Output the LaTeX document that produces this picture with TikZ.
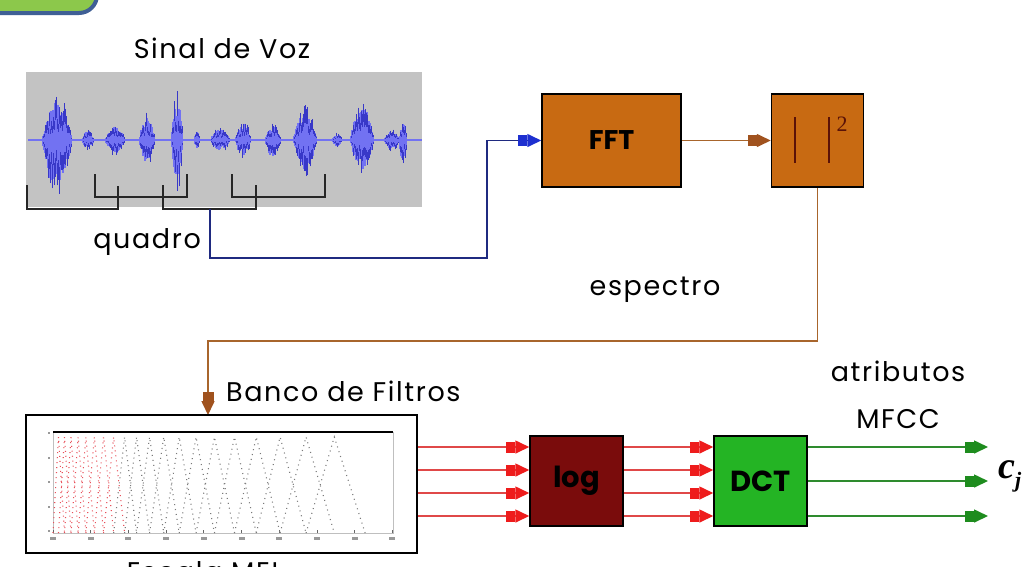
\documentclass[tikz,border=0pt]{standalone}
\usepackage{fontspec}
\setmainfont{Poppins}
\newfontfamily\seriffont{Liberation Serif}
\usetikzlibrary{arrows.meta}
\definecolor{slidegreen}{HTML}{8CC84B}
\definecolor{slideblue}{HTML}{3F5F95}
\definecolor{wavegray}{HTML}{C3C3C3}
\definecolor{wavelight}{HTML}{7272F2}
\definecolor{wavedark}{HTML}{3838C8}
\definecolor{navy}{HTML}{1F2A80}
\definecolor{tipblue}{HTML}{1E30D0}
\definecolor{fftorange}{HTML}{C86A12}
\definecolor{brownline}{HTML}{A8652C}
\definecolor{tipbrown}{HTML}{A0521E}
\definecolor{barbrown}{HTML}{5A1208}
\definecolor{logred}{HTML}{7A0C0C}
\definecolor{dctgreen}{HTML}{24B424}
\definecolor{redline}{HTML}{E04848}
\definecolor{tipred}{HTML}{EE1C1C}
\definecolor{greenline}{HTML}{2E8B2E}
\definecolor{tipgreen}{HTML}{1E8C1E}
\definecolor{melred}{HTML}{E8505A}
\definecolor{melgray}{HTML}{7A7A7A}
\tikzset{
  lbl/.style={font=\fontsize{27}{30}\selectfont\addfontfeature{LetterSpace=6}, text=black, inner sep=0pt},
  procbox/.style={draw=black, line width=1.5pt, minimum width=#1, inner sep=0pt},
  bracket/.style={draw=black!85, line width=1.6pt},
  tipstyle/.style={-{Rectangle[length=9pt,width=11pt,color=#1] Triangle[length=14pt,width=13pt,color=#1]}},
  blueconn/.style={draw=navy, line width=1.6pt, tipstyle=tipblue},
  brownconn/.style={draw=brownline, line width=1.6pt, tipstyle=tipbrown},
  redconn/.style={draw=redline, line width=1.6pt, tipstyle=tipred},
  greenconn/.style={draw=greenline, line width=1.6pt, tipstyle=tipgreen},
  melline/.style={line width=1.1pt, dash pattern=on 1pt off 4pt},
}
\begin{document}
\begin{tikzpicture}[x=1pt,y=-1pt]
\useasboundingbox (0,0) rectangle (1027,566);
\fill[white] (0,0) rectangle (1027,566);

% slide decoration top-left
\draw[draw=slideblue, fill=slidegreen, line width=4pt, rounded corners=18pt] (-30,-30) rectangle (97,13);

% signal box
\node[lbl] (sinal) at (222,48) {Sinal de Voz};
\node[fill=wavegray, minimum width=396pt, minimum height=135pt, inner sep=0pt] (wave) at (224,139.5) {};
\draw[wavelight, line width=1.5pt] (28,140) -- (422,140);
\pgfmathsetseed{11}
\foreach \c/\w/\u/\d in {57/15/48/63, 88/6/12/12, 115/10/17/17, 147/8/28/30, 177/6/52/52,
    197/3/10/10, 220/10/14/14, 243/8/22/20, 273/8/17/22, 305/12/35/38, 337/5/8/8,
    362/12/42/37, 392/8/12/12, 403/4/20/28} {
  \foreach \i in {-\w,...,\w} {
    \pgfmathsetmacro\e{1-(\i/\w)^2}
    \pgfmathsetmacro\a{\u*\e*(0.45+0.35*rnd)}
    \pgfmathsetmacro\b{\d*\e*(0.45+0.35*rnd)}
    \draw[wavelight, line width=1.3pt] (\c+\i,140-\a) -- (\c+\i,140+\b);
  }
  \foreach \i in {-\w,...,\w} {
    \pgfmathsetmacro\e{1-(\i/\w)^2}
    \pgfmathsetmacro\a{\u*\e*(0.3+0.7*rnd)}
    \pgfmathsetmacro\b{\d*\e*(0.3+0.7*rnd)}
    \draw[wavedark, line width=0.7pt] (\c+\i,140-\a) -- (\c+\i,140-0.5*\a);
    \draw[wavedark, line width=0.7pt] (\c+\i,140+\b) -- (\c+\i,140+0.5*\b);
  }
}
% frame brackets
\draw[bracket] (27,185) -- (27,209) -- (118,209) -- (118,186);
\draw[bracket] (95,174) -- (95,197) -- (187,197) -- (187,174);
\draw[bracket] (163,185) -- (163,209) -- (256,209) -- (256,185);
\draw[bracket] (232,174) -- (232,197) -- (325,197) -- (325,174);
\coordinate (q) at (210,209);
\node[lbl, anchor=east] (quadro) at (201,242) {quadro};

% FFT and |.|^2
\node[procbox=139pt, minimum height=93pt, fill=fftorange, font=\fontsize{27}{30}\selectfont\bfseries] (fft) at (611.5,140.5) {FFT};
\node[procbox=92pt, minimum height=93pt, fill=fftorange] (sq) at (817.5,140.5) {};
\draw[barbrown, line width=2pt] (795,117) -- (795,163);
\draw[barbrown, line width=2pt] (829,117) -- (829,163);
\node[text=barbrown, font=\seriffont\fontsize{22}{24}\selectfont, inner sep=0pt] (two) at (842,124) {2};

\coordinate (bend1) at (487,258);
\draw[blueconn] (q) |- (bend1) |- (fft.west);
\draw[brownconn] (fft.east) -- (sq.west);

% spectrum path to filter bank
\node[lbl] (espectro) at (655,290) {espectro};
\coordinate (bin) at (208,415);
\draw[brownconn] (sq.south) -- ++(0,153) -| (bin);
\node[lbl, anchor=west] (banco) at (226,391) {Banco de Filtros};

% filter bank box
\node[draw=black, line width=1.8pt, minimum width=391pt, minimum height=138pt, inner sep=0pt] (fb) at (221.5,484) {};
\draw[black!25, line width=0.6pt] (53,432) -- (53,533) -- (393,533) -- (393,432);
\foreach \t in {0,...,9} { \draw[black!60, line width=0.8pt] (53+37.7*\t,533) -- ++(0,-3); \fill[black!40] (53+37.7*\t-3,540) rectangle ++(6,-3);}
\foreach \t in {0,...,4} { \fill[black!40] (48,532-24.5*\t) rectangle ++(2,-2);}
\foreach \k in {1,...,20} {
  \pgfmathsetmacro\xa{53+5.5*(1.09^(\k-1)-1)/0.09}
  \pgfmathsetmacro\xb{53+5.5*(1.09^(\k)-1)/0.09}
  \pgfmathsetmacro\xc{53+5.5*(1.09^(\k+1)-1)/0.09}
  \ifnum\k<9 \def\mc{melred}\else\def\mc{melgray}\fi
  \draw[melline, color=\mc] (\xa,533) -- (\xb,437) -- (\xc,533);
}
\draw[black, line width=2pt] (53,432) -- (393,432);
\node[lbl, anchor=north] (escala) at (205,561) {Escala MEL};

% log and DCT
\node[procbox=93pt, minimum height=90pt, fill=logred, font=\fontsize{29}{31}\selectfont\bfseries] (log) at (576.5,481) {log};
\node[procbox=93pt, minimum height=90pt, fill=dctgreen, font=\fontsize{29}{31}\selectfont\bfseries] (dct) at (760.5,481) {DCT};
\foreach \y in {447,470,493,516} {
  \draw[redconn] (fb.east |- 0,\y) -- (log.west |- 0,\y);
  \draw[redconn] (log.east |- 0,\y) -- (dct.west |- 0,\y);
}
\coordinate (o1) at (988,447);
\coordinate (o2) at (988,481);
\coordinate (o3) at (988,516);
\draw[greenconn] (dct.east |- o1) -- (o1);
\draw[greenconn] (dct.east |- o2) -- (o2);
\draw[greenconn] (dct.east |- o3) -- (o3);
\node[lbl] (atrib) at (898,371) {atributos};
\node[lbl] (mfcc) at (898,419) {MFCC};
\node[font=\seriffont\fontsize{38}{40}\selectfont\bfseries\itshape, anchor=west, inner sep=0pt] (cj) at (998,476) {c\raisebox{-9pt}{\fontsize{22}{24}\selectfont j}};
\end{tikzpicture}
\end{document}
